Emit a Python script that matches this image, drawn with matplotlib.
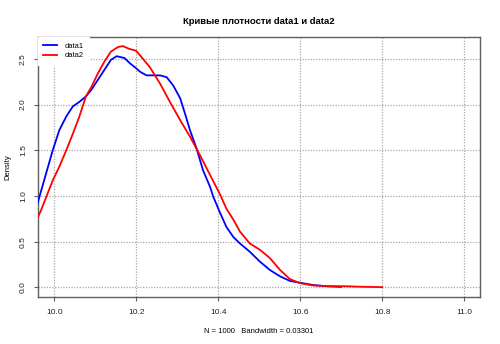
import matplotlib
matplotlib.use("Agg")
import matplotlib.pyplot as plt

plt.rcParams['font.family'] = ['Liberation Sans', 'DejaVu Sans']

title = "Кривые плотности data1 и data2"
xlabel = "N = 1000   Bandwidth = 0.03301"
ylabel = "Density"
series_names = ["data1", "data2"]

data1_x = [9.959, 9.980, 9.996, 10.012, 10.029, 10.045, 10.061, 10.077, 10.090, 10.106,
           10.122, 10.138, 10.152, 10.171, 10.185, 10.199, 10.209, 10.225, 10.241, 10.258,
           10.274, 10.290, 10.307, 10.319, 10.331, 10.347, 10.363, 10.380, 10.388, 10.404,
           10.420, 10.437, 10.453, 10.477, 10.502, 10.526, 10.551, 10.575, 10.600, 10.632,
           10.665, 10.700]
data1_y = [0.92, 1.25, 1.50, 1.72, 1.87, 1.98, 2.03, 2.09, 2.16, 2.27,
           2.38, 2.49, 2.53, 2.51, 2.45, 2.40, 2.36, 2.32, 2.32, 2.32,
           2.30, 2.21, 2.07, 1.90, 1.72, 1.52, 1.28, 1.10, 0.99, 0.82,
           0.66, 0.55, 0.48, 0.39, 0.28, 0.19, 0.12, 0.07, 0.05, 0.025,
           0.012, 0.005]

data2_x = [9.960, 9.968, 9.996, 10.012, 10.029, 10.045, 10.061, 10.077, 10.090, 10.106,
           10.122, 10.138, 10.155, 10.167, 10.183, 10.199, 10.209, 10.233, 10.258, 10.282,
           10.307, 10.331, 10.355, 10.380, 10.404, 10.420, 10.437, 10.453, 10.477, 10.502,
           10.526, 10.551, 10.575, 10.600, 10.632, 10.670, 10.710, 10.750, 10.800]
data2_y = [0.77, 0.85, 1.17, 1.32, 1.50, 1.68, 1.87, 2.09, 2.19, 2.34,
           2.47, 2.58, 2.63, 2.64, 2.61, 2.59, 2.54, 2.41, 2.23, 2.03,
           1.83, 1.65, 1.45, 1.23, 1.02, 0.86, 0.74, 0.61, 0.48, 0.41,
           0.32, 0.19, 0.09, 0.045, 0.02, 0.012, 0.012, 0.006, 0.002]

xticks = [10.0, 10.2, 10.4, 10.6, 10.8, 11.0]
yticks = [0.0, 0.5, 1.0, 1.5, 2.0, 2.5]

fig = plt.figure(figsize=(5.0, 3.44), dpi=100)
ax = fig.add_axes([38/500, 1 - 297/344, 442/500, 260/344])

ax.set_xlim(9.960, 11.039)
ax.set_ylim(-0.106, 2.74)

ax.set_xticks(xticks)
ax.set_xticklabels(["%.1f" % v for v in xticks])
ax.set_yticks(yticks)
ax.set_yticklabels(["%.1f" % v for v in yticks], rotation=90, va='center')

ax.grid(True, color='#a8a8a8', linestyle=(0, (1, 1.2)), linewidth=0.9)
ax.set_axisbelow(True)

ax.plot(data1_x, data1_y, color='#0000ff', lw=1.3, label=series_names[0], zorder=3,
        solid_joinstyle='round')
ax.plot(data2_x, data2_y, color='#ff0000', lw=1.3, label=series_names[1], zorder=4,
        solid_joinstyle='round')

for s in ax.spines.values():
    s.set_color('#606060')
    s.set_linewidth(1.0)
ax.tick_params(axis='both', colors='#606060', length=3, width=0.8, labelsize=6.0,
               labelcolor='#222222')
ax.tick_params(axis='x', pad=6)
ax.tick_params(axis='y', pad=5)

ax.set_title(title, fontsize=6.8, fontweight='bold', pad=9)
ax.set_xlabel(xlabel, fontsize=5.5, labelpad=8)
ax.set_ylabel(ylabel, fontsize=5.5, labelpad=6)

# legend with white background covering the frame, no border
leg = ax.legend(loc='upper left', bbox_to_anchor=(0.0, 1.0), borderaxespad=0.0,
                frameon=True, fancybox=False, edgecolor='white', facecolor='white',
                framealpha=1.0, fontsize=5.4, handlelength=1.8, handletextpad=1.0,
                labelspacing=0.35, borderpad=0.7)
leg.set_zorder(10)

fig.savefig("out.png", dpi=100, facecolor='white')
